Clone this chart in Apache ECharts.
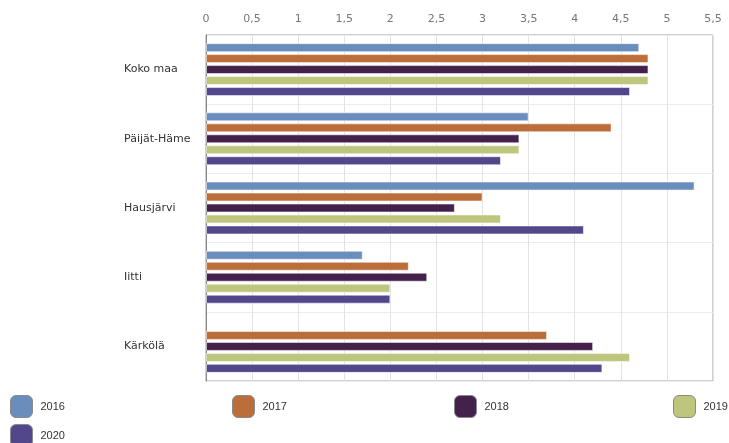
<!DOCTYPE html>
<html>
<head>
<meta charset="utf-8">
<script src="https://cdn.jsdelivr.net/npm/echarts@6/dist/echarts.min.js"></script>
<style>
  html, body { margin: 0; padding: 0; background: #fff; }
  #main { width: 729px; height: 443px; }
</style>
</head>
<body>
<div id="main"></div>
<script>
// alueet ja vuodet
var areas = ['Koko maa', 'Päijät-Häme', 'Hausjärvi', 'Iitti', 'Kärkölä'];
var years = ['2016', '2017', '2018', '2019', '2020'];
var colors = ['#698dbc', '#bb6e39', '#43214b', '#bec57c', '#52478a'];

// arvot vuosittain (alueiden järjestyksessä)
var v2016 = [4.7, 3.5, 5.3, 1.7, null];
var v2017 = [4.8, 4.4, 3.0, 2.2, 3.7];
var v2018 = [4.8, 3.4, 2.7, 2.4, 4.2];
var v2019 = [4.8, 3.4, 3.2, 2.0, 4.6];
var v2020 = [4.6, 3.2, 4.1, 2.0, 4.3];
var values = [v2016, v2017, v2018, v2019, v2020];

// legendan paikat
var legendPos = [[10, 395], [232, 395], [454, 395], [673, 395], [10, 424]];

var myChart = echarts.init(document.getElementById('main'));

var series = years.map(function (y, i) {
  return {
    name: y,
    type: 'bar',
    data: values[i],
    barWidth: 9,
    barGap: '22%',
    itemStyle: {
      color: colors[i],
      borderColor: 'rgba(255,255,255,0.55)',
      borderWidth: 1
    }
  };
});

var legends = years.map(function (y, i) {
  return {
    data: [y],
    left: legendPos[i][0],
    top: legendPos[i][1],
    padding: 0,
    icon: 'roundRect',
    itemWidth: 22,
    itemHeight: 22,
    itemGap: 8,
    itemStyle: { borderColor: '#8a8a8a', borderWidth: 1 },
    textStyle: { color: '#333', fontSize: 11, fontFamily: 'Liberation Sans', padding: [0, 0, 0, 3] }
  };
});

myChart.setOption({
  animation: false,
  color: colors,
  legend: legends,
  grid: {
    left: 206,
    top: 35,
    width: 507,
    height: 346,
    show: true,
    borderColor: '#a0a0a0',
    borderWidth: 1
  },
  xAxis: {
    type: 'value',
    position: 'top',
    min: 0,
    max: 5.5,
    interval: 0.5,
    axisLine: { show: false },
    axisTick: { show: false },
    axisLabel: {
      color: '#777',
      fontSize: 11,
      fontFamily: 'DejaVu Sans',
      margin: 10,
      formatter: function (v) { return String(v).replace('.', ','); }
    },
    splitLine: { show: true, lineStyle: { color: '#e3e3e3' } }
  },
  yAxis: {
    type: 'category',
    data: areas,
    inverse: true,
    axisLine: { show: true, lineStyle: { color: '#888' } },
    axisTick: { show: false },
    axisLabel: {
      align: 'left',
      margin: 82,
      color: '#333',
      fontSize: 11,
      fontFamily: 'DejaVu Sans'
    },
    splitLine: { show: true, lineStyle: { color: '#ececec' } }
  },
  series: series
});
</script>
</body>
</html>
